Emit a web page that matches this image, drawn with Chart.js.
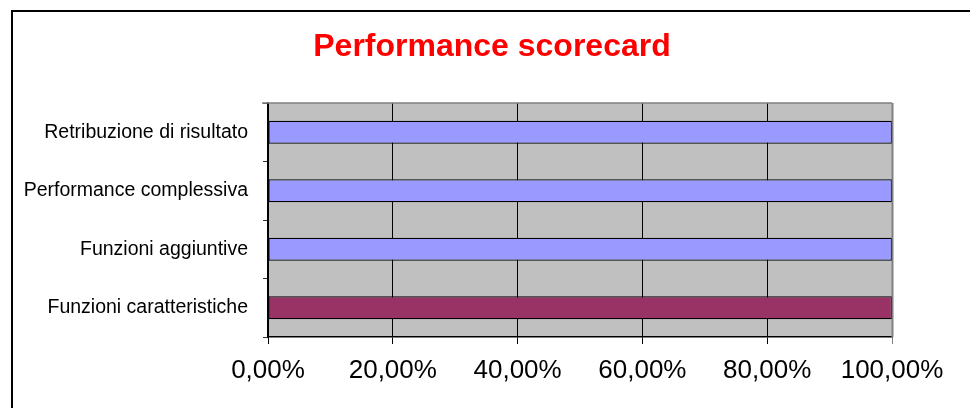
<!DOCTYPE html>
<html>
<head>
<meta charset="utf-8">
<script src="https://cdn.jsdelivr.net/npm/chart.js@4.4.1/dist/chart.umd.min.js"></script>
<style>
  html, body { margin: 0; padding: 0; background: #fff; }
  canvas { display: block; }
</style>
</head>
<body>
<canvas id="c" width="970" height="408"></canvas>
<script>
const categories = ['Retribuzione di risultato', 'Performance complessiva', 'Funzioni aggiuntive', 'Funzioni caratteristiche'];
const values = [1, 1, 1, 1];
const barColors = ['#9999FF', '#9999FF', '#9999FF', '#993366'];
const tickLabels = ['0,00%', '20,00%', '40,00%', '60,00%', '80,00%', '100,00%'];
const FONT = "'Liberation Sans', Arial, sans-serif";

const framePlugin = {
  id: 'frame',
  beforeDraw(chart) {
    const { ctx, chartArea: a } = chart;
    ctx.save();
    ctx.fillStyle = '#C0C0C0';
    ctx.fillRect(a.left, a.top, a.right - a.left, a.bottom - a.top);
    ctx.restore();
  },
  afterDraw(chart) {
    const { ctx, chartArea: a } = chart;
    ctx.save();
    ctx.strokeStyle = '#808080';
    ctx.lineWidth = 1.5;
    ctx.beginPath();
    ctx.moveTo(a.left - 6, a.top);
    ctx.lineTo(a.right, a.top);
    ctx.stroke();
    ctx.lineWidth = 2;
    ctx.beginPath();
    ctx.moveTo(a.right + 0.5, a.top);
    ctx.lineTo(a.right + 0.5, a.bottom);
    ctx.stroke();
    ctx.strokeStyle = '#000';
    ctx.lineWidth = 2;
    ctx.strokeRect(12, 11, 1000, 1000);
    ctx.restore();
  }
};

new Chart(document.getElementById('c'), {
  type: 'bar',
  data: {
    labels: categories,
    datasets: [{
      data: values,
      backgroundColor: barColors,
      borderColor: '#000',
      borderWidth: 1.2,
      borderSkipped: false,
      barPercentage: 0.39,
      categoryPercentage: 1.0
    }]
  },
  options: {
    indexAxis: 'y',
    responsive: false,
    devicePixelRatio: 1,
    animation: false,
    layout: { padding: { left: 92, right: 78, top: 0, bottom: 0 } },
    plugins: {
      legend: { display: false },
      tooltip: { enabled: false },
      title: {
        display: true,
        text: 'Performance scorecard',
        color: '#FF0000',
        font: { family: FONT, size: 32, weight: 'bold' },
        padding: { top: 28.3, bottom: 36.3 }
      }
    },
    scales: {
      x: {
        type: 'linear',
        min: 0,
        max: 1,
        ticks: {
          stepSize: 0.2,
          color: '#000',
          font: { family: FONT, size: 26 },
          padding: 11,
          maxRotation: 0,
          callback: (v, i) => tickLabels[i]
        },
        grid: {
          color: (ctx) => (ctx.tick && ctx.tick.value === 1) ? '#808080' : '#000',
          lineWidth: 1,
          tickLength: 7,
          drawTicks: true
        },
        border: { display: true, color: '#000', width: 1.5 },
        afterFit: (s) => { s.height = 71; }
      },
      y: {
        type: 'category',
        ticks: {
          color: '#000',
          font: { family: FONT, size: 19.5 },
          padding: 15
        },
        grid: {
          offset: true,
          drawOnChartArea: false,
          drawTicks: true,
          tickLength: 5,
          color: '#333'
        },
        border: { display: true, color: '#000', width: 1.5 },
        afterFit: (s) => {
          s.width = 176;
          s._computeLabelArea = () => undefined;
        }
      }
    }
  },
  plugins: [framePlugin]
});
</script>
</body>
</html>
